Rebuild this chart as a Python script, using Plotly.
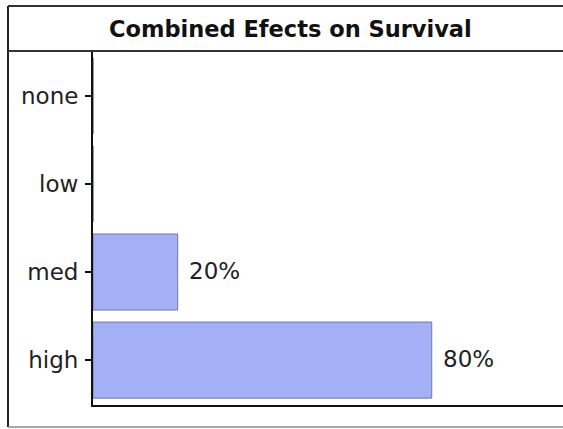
import plotly.graph_objects as go

categories = ["none", "low", "med", "high"]
values = [0, 0, 20, 80]
title_text = "Combined Efects on Survival"

W, H = 563, 429
FONT = "DejaVu Sans"

def px_x(p):
    return p / W

def px_y(p):
    return 1 - p / H

labels = [f"{v}%" if v else "" for v in values]

fig = go.Figure()
fig.add_trace(go.Bar(
    x=values, y=categories, orientation="h",
    marker=dict(color="#a3b0f5", line=dict(color="#6f7a9c", width=1)),
    hoverinfo="skip",
))

annotations = []
for c, v, t in zip(categories, values, labels):
    if t:
        annotations.append(dict(x=v, y=c, xref="x", yref="y", text=t,
                                showarrow=False, xanchor="left", yanchor="middle",
                                xshift=9, yshift=1,
                                font=dict(family=FONT, size=23, color="#222")))

annotations.append(dict(x=290 / W, y=px_y(29), xref="paper", yref="paper",
                        text="<b>" + title_text + "</b>", showarrow=False,
                        xanchor="center", yanchor="middle",
                        font=dict(family=FONT, size=22.5, color="#111")))

shapes = [
    # outer frame
    dict(type="line", xref="paper", yref="paper", x0=px_x(8), x1=px_x(8), y0=px_y(6), y1=px_y(427),
         line=dict(color="#222", width=2)),
    dict(type="line", xref="paper", yref="paper", x0=px_x(8), x1=1.02, y0=px_y(6), y1=px_y(6),
         line=dict(color="#333", width=2)),
    dict(type="line", xref="paper", yref="paper", x0=px_x(8), x1=1.02, y0=px_y(427), y1=px_y(427),
         line=dict(color="#888", width=1.5)),
    # title separator
    dict(type="line", xref="paper", yref="paper", x0=px_x(8), x1=1.02, y0=px_y(51), y1=px_y(51),
         line=dict(color="#333", width=2)),
]

fig.update_layout(
    width=W, height=H,
    margin=dict(l=0, r=0, t=0, b=0),
    paper_bgcolor="white", plot_bgcolor="white",
    showlegend=False,
    bargap=0.136,
    font=dict(family=FONT, size=23, color="#222"),
    annotations=annotations,
    shapes=shapes,
    xaxis=dict(domain=[px_x(93), 1], range=[0, 111], showgrid=False, zeroline=False,
               showticklabels=False, ticks="", showline=True, linecolor="#111", linewidth=2,
               fixedrange=True),
    yaxis=dict(domain=[px_y(405), px_y(51)], type="category", categoryorder="array",
               categoryarray=categories, range=[3.51, -0.51], showgrid=False, zeroline=False,
               ticks="outside", ticklen=6, tickwidth=1.5, tickcolor="#111",
               ticklabelstandoff=2,
               showline=True, linecolor="#111", linewidth=2,
               tickfont=dict(family=FONT, size=23, color="#222"), fixedrange=True),
)

fig.write_html("out.html")
